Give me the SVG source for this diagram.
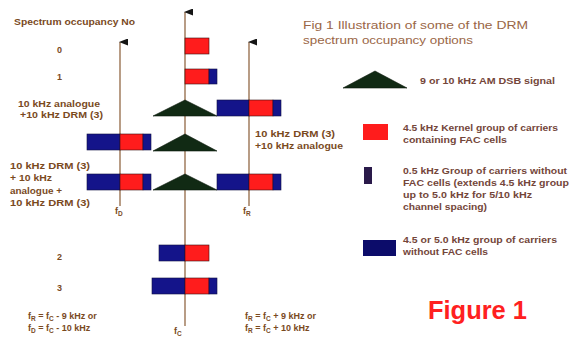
<svg xmlns="http://www.w3.org/2000/svg" width="570" height="337" viewBox="0 0 570 337">
<defs>
<style>
.t{font-family:"Liberation Sans",Arial,sans-serif;font-weight:bold;font-size:9px;fill:#7a4a1e}
.lg{font-family:"Liberation Sans",Arial,sans-serif;font-weight:bold;font-size:9px;fill:#74463a}
.ti{font-family:"Liberation Sans",Arial,sans-serif;font-size:11.5px;fill:#9a6646}
.fig{font-family:"Liberation Sans",Arial,sans-serif;font-weight:bold;font-size:25px;fill:#ff2020}
.sub{font-size:6.5px}
.ax{stroke:#9a7352;stroke-width:1.4;fill:none}
.r{fill:#ff1c1c;stroke:#3a1010;stroke-width:0.6}
.b{fill:#14148a;stroke:#101040;stroke-width:0.6}
.k{fill:#112a14;stroke:#0a180a;stroke-width:0.6}
</style>
<marker id="ah" markerWidth="7" markerHeight="9" refX="3.5" refY="1" orient="auto" markerUnits="userSpaceOnUse" viewBox="0 0 7 9">
<path d="M0,9 L3.5,0 L7,9 Z" fill="#151515"/>
</marker>
</defs>
<rect width="570" height="337" fill="#ffffff"/>

<g id="connectors">
<line class="ax" x1="185" y1="326" x2="185" y2="12" marker-end="url(#ah)"/>
<line class="ax" x1="120" y1="206" x2="120" y2="42" marker-end="url(#ah)"/>
<line class="ax" x1="249" y1="206" x2="249" y2="42" marker-end="url(#ah)"/>
</g>

<g id="labels-left">
<text class="t" x="14" y="25" textLength="121" lengthAdjust="spacingAndGlyphs">Spectrum occupancy No</text>
<text class="t" x="57" y="53">0</text>
<text class="t" x="57" y="80">1</text>
<text class="t" x="18" y="107" textLength="82" lengthAdjust="spacingAndGlyphs">10 kHz analogue</text>
<text class="t" x="20" y="118" textLength="83" lengthAdjust="spacingAndGlyphs">+10 kHz DRM (3)</text>
<text class="t" x="10" y="169" textLength="80" lengthAdjust="spacingAndGlyphs">10 kHz DRM (3)</text>
<text class="t" x="10" y="181" textLength="42" lengthAdjust="spacingAndGlyphs">+ 10 kHz</text>
<text class="t" x="10" y="194" textLength="52" lengthAdjust="spacingAndGlyphs">analogue +</text>
<text class="t" x="10" y="206" textLength="80" lengthAdjust="spacingAndGlyphs">10 kHz DRM (3)</text>
<text class="t" x="57" y="260">2</text>
<text class="t" x="57" y="291">3</text>
</g>

<g id="labels-right">
<text class="t" x="255" y="137" textLength="80" lengthAdjust="spacingAndGlyphs">10 kHz DRM (3)</text>
<text class="t" x="255" y="149" textLength="88" lengthAdjust="spacingAndGlyphs">+10 kHz analogue</text>
</g>

<g id="freq-labels">
<text class="t" x="115" y="214">f<tspan class="sub" dy="2">D</tspan></text>
<text class="t" x="243" y="214">f<tspan class="sub" dy="2">R</tspan></text>
<text class="t" x="174" y="334">f<tspan class="sub" dy="2">C</tspan></text>
<text class="t" x="28" y="319">f<tspan class="sub" dy="2">R</tspan><tspan dy="-2"> = f</tspan><tspan class="sub" dy="2">C</tspan><tspan dy="-2"> - 9 kHz or</tspan></text>
<text class="t" x="28" y="331">f<tspan class="sub" dy="2">D</tspan><tspan dy="-2"> = f</tspan><tspan class="sub" dy="2">C</tspan><tspan dy="-2"> - 10 kHz</tspan></text>
<text class="t" x="245" y="319">f<tspan class="sub" dy="2">R</tspan><tspan dy="-2"> = f</tspan><tspan class="sub" dy="2">C</tspan><tspan dy="-2"> + 9 kHz or</tspan></text>
<text class="t" x="245" y="331">f<tspan class="sub" dy="2">R</tspan><tspan dy="-2"> = f</tspan><tspan class="sub" dy="2">C</tspan><tspan dy="-2"> + 10 kHz</tspan></text>
</g>

<g id="spectrum-0">
<rect class="r" x="185" y="38" width="24" height="16"/>
</g>
<g id="spectrum-1">
<rect class="r" x="185" y="69" width="24" height="15"/>
<rect class="b" x="209" y="69" width="8" height="15"/>
</g>
<g id="row-analogue-drm">
<polygon class="k" points="153,116 185,100 217,116"/>
<rect class="b" x="217" y="100" width="32" height="16"/>
<rect class="r" x="249" y="100" width="24" height="16"/>
<rect class="b" x="273" y="100" width="8" height="16"/>
</g>
<g id="row-drm-analogue">
<rect class="b" x="87" y="134" width="33" height="16"/>
<rect class="r" x="120" y="134" width="23" height="16"/>
<rect class="b" x="143" y="134" width="8" height="16"/>
<polygon class="k" points="153,151 185,134 217,151"/>
</g>
<g id="row-drm-analogue-drm">
<rect class="b" x="87" y="174" width="33" height="16"/>
<rect class="r" x="120" y="174" width="23" height="16"/>
<rect class="b" x="143" y="174" width="8" height="16"/>
<polygon class="k" points="153,190 185,174 217,190"/>
<rect class="b" x="217" y="174" width="32" height="16"/>
<rect class="r" x="249" y="174" width="24" height="16"/>
<rect class="b" x="273" y="174" width="8" height="16"/>
</g>
<g id="spectrum-2">
<rect class="b" x="159" y="245" width="26" height="16"/>
<rect class="r" x="185" y="245" width="24" height="16"/>
</g>
<g id="spectrum-3">
<rect class="b" x="152" y="278" width="33" height="16"/>
<rect class="r" x="185" y="278" width="24" height="16"/>
<rect class="b" x="209" y="278" width="8" height="16"/>
</g>

<g id="title">
<text class="ti" x="303" y="29" textLength="225" lengthAdjust="spacingAndGlyphs">Fig 1 Illustration of some of the DRM</text>
<text class="ti" x="303" y="44" textLength="170" lengthAdjust="spacingAndGlyphs">spectrum occupancy options</text>
</g>

<g id="legend-am">
<polygon class="k" points="343,88 375,71 407,88"/>
<text class="lg" x="420" y="84" textLength="135" lengthAdjust="spacingAndGlyphs">9 or 10 kHz AM DSB signal</text>
</g>
<g id="legend-kernel">
<rect x="363" y="124" width="25" height="16" fill="#ff1c1c"/>
<text class="lg" x="403" y="131" textLength="155" lengthAdjust="spacingAndGlyphs">4.5 kHz Kernel group of carriers</text>
<text class="lg" x="403" y="143" textLength="104" lengthAdjust="spacingAndGlyphs">containing FAC cells</text>
</g>
<g id="legend-half">
<rect x="364" y="167" width="8" height="17" fill="#2a1a4a"/>
<text class="lg" x="403" y="174" textLength="164" lengthAdjust="spacingAndGlyphs">0.5 kHz Group of carriers without</text>
<text class="lg" x="403" y="186" textLength="166" lengthAdjust="spacingAndGlyphs">FAC cells (extends 4.5 kHz group</text>
<text class="lg" x="403" y="198" textLength="129" lengthAdjust="spacingAndGlyphs">up to 5.0 kHz for 5/10 kHz</text>
<text class="lg" x="403" y="210" textLength="84" lengthAdjust="spacingAndGlyphs">channel spacing)</text>
</g>
<g id="legend-group">
<rect x="363" y="240" width="33" height="16" fill="#0c0c6a"/>
<text class="lg" x="403" y="243" textLength="154" lengthAdjust="spacingAndGlyphs">4.5 or 5.0 kHz group of carriers</text>
<text class="lg" x="403" y="255" textLength="85" lengthAdjust="spacingAndGlyphs">without FAC cells</text>
</g>

<g id="figure-label">
<text class="fig" x="428" y="319" textLength="99" lengthAdjust="spacingAndGlyphs">Figure 1</text>
</g>
</svg>
